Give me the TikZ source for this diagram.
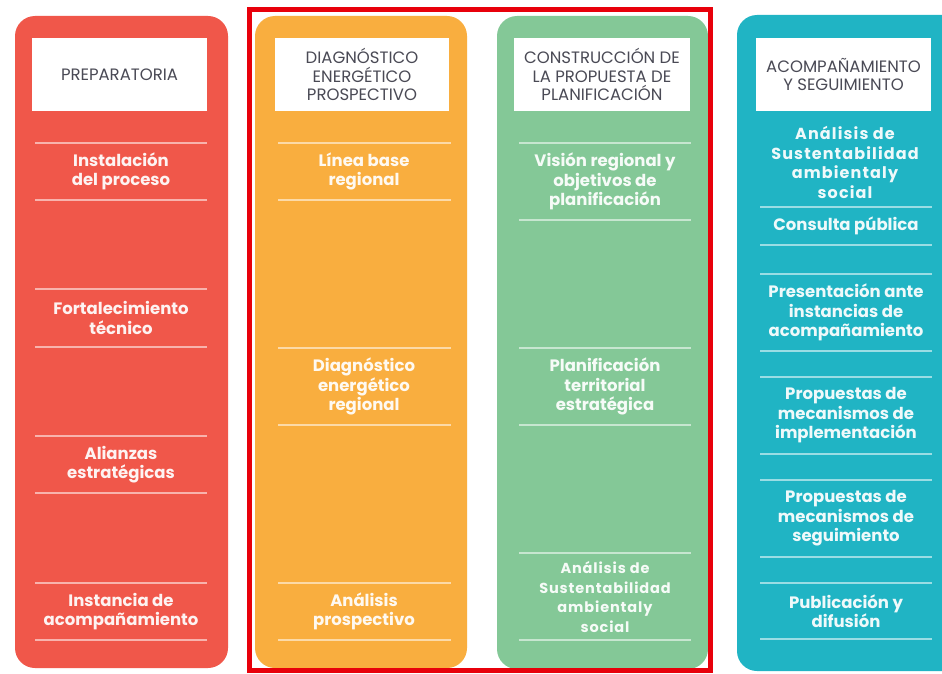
\documentclass[tikz,border=0pt]{standalone}
\usepackage{fontspec}
\setmainfont{Poppins}
\definecolor{prepred}{HTML}{F0574A}
\definecolor{diagorange}{HTML}{F9AE3F}
\definecolor{constgreen}{HTML}{84C897}
\definecolor{acompteal}{HTML}{20B4C4}
\definecolor{headgray}{HTML}{4A4A55}
\definecolor{framered}{HTML}{E8000B}
\tikzset{
  column/.style={rounded corners=20pt},
  header/.style={fill=white, text=headgray, align=center, minimum height=73pt, inner sep=0pt, font=\fontsize{16.5}{18.5}\selectfont},
  item/.style={text=white, text opacity=.93, align=center, inner sep=0pt, font=\fontsize{16.5}{19.5}\selectfont\bfseries},
  smallitem/.style={item, font=\fontsize{14.5}{19.5}\selectfont\bfseries\addfontfeature{LetterSpace=6}},
  tealitem/.style={item, font=\fontsize{16}{19.5}\selectfont\bfseries\addfontfeature{LetterSpace=7}},
  sepline/.style={white, opacity=.55, line width=1.5pt},
}
\begin{document}
\begin{tikzpicture}[x=1pt,y=-1pt]
\useasboundingbox (0,0) rectangle (942,674);
\clip (0,0) rectangle (942,674);
\fill[white] (0,0) rectangle (942,674);
% columns
\fill[column, prepred] (15,16) rectangle (228,668);
\fill[column, diagorange] (255,16) rectangle (467,668);
\fill[column, constgreen] (497,16) rectangle (708,669);
\fill[column, acompteal] (737,15) rectangle (965,671);
% headers
\node[header, minimum width=175pt] (prep0) at (119.5,74.5) {PREPARATORIA};
\node[header, minimum width=174pt] (diag0) at (362,74.5) {DIAGNÓSTICO\\ENERGÉTICO\\PROSPECTIVO};
\node[header, minimum width=176pt] (const0) at (602,74.5) {CONSTRUCCIÓN DE\\LA PROPUESTA DE\\PLANIFICACIÓN};
\node[header, minimum width=175pt] (acomp0) at (843.5,74.5) {ACOMPAÑAMIENTO\\Y SEGUIMIENTO};
% preparatoria
\foreach \y in {143,200,289,347,436,493,583,640}
  \draw[sepline] (35,\y) -- (207,\y);
\node[item] (prep1) at (121,171.5) {Instalación\\del proceso};
\node[item] (prep2) at (121,318) {Fortalecimiento\\técnico};
\node[item] (prep3) at (121,464.5) {Alianzas\\estratégicas};
\node[item] (prep4) at (121,611.5) {Instancia de\\acompañamiento};
% diagnostico
\foreach \y in {143,200,348,425,583,640}
  \draw[sepline] (278,\y) -- (451,\y);
\node[item] (diag1) at (364,171.5) {Línea base\\regional};
\node[item] (diag2) at (364,386.5) {Diagnóstico\\energético\\regional};
\node[item] (diag3) at (364,611.5) {Análisis\\prospectivo};
% construccion
\foreach \y in {143,220,348,425,553,640}
  \draw[sepline] (519,\y) -- (691,\y);
\node[item] (const1) at (605,181.5) {Visión regional y\\objetivos de\\planificación};
\node[item] (const2) at (605,386.5) {Planificación\\territorial\\estratégica};
\node[smallitem] (const3) at (605,597) {Análisis de\\Sustentabilidad\\ambientaly\\social};
% acompanamiento
\foreach \y in {207,245,274,351,377,454,480,557,583,639}
  \draw[sepline] (760,\y) -- (932,\y);
\node[tealitem] (acomp1) at (845,162.5) {Análisis de\\Sustentabilidad\\ambientaly\\social};
\node[item] (acomp2) at (846,226) {Consulta pública};
\node[item] (acomp3) at (846,312.5) {Presentación ante\\instancias de\\acompañamiento};
\node[item] (acomp4) at (846,415.5) {Propuestas de\\mecanismos de\\implementación};
\node[item] (acomp5) at (846,518.5) {Propuestas de\\mecanismos de\\seguimiento};
\node[item] (acomp6) at (846,611) {Publicación y\\difusión};
% marco
\draw[framered, line width=5pt] (249.5,9.5) rectangle (710.5,670.5);
\end{tikzpicture}
\end{document}
